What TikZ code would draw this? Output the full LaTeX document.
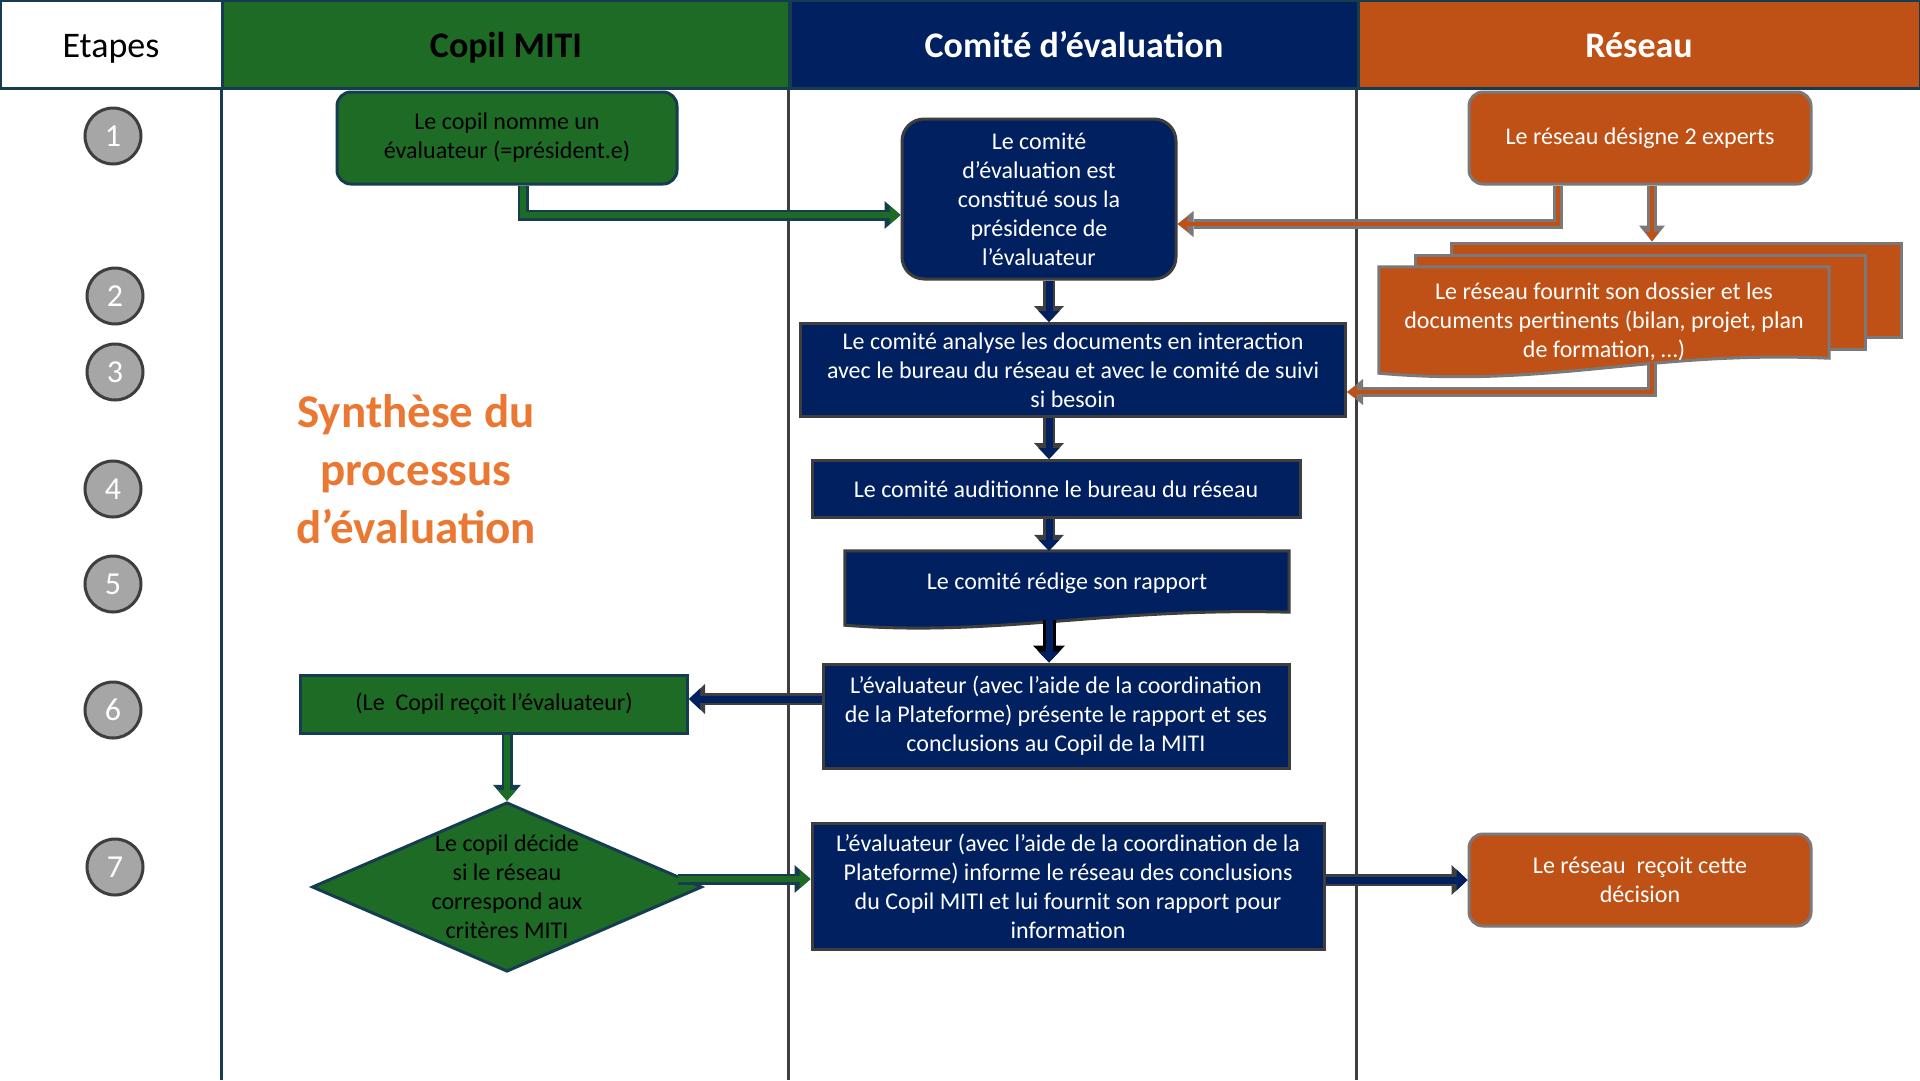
\documentclass[tikz,border=0pt]{standalone}
\usepackage{fontspec}
\setmainfont{Carlito}
\usetikzlibrary{arrows.meta, shapes.geometric, positioning, backgrounds}

\definecolor{copilgreen}{RGB}{29,107,36}
\definecolor{comitenavy}{RGB}{0,32,96}
\definecolor{reseauorange}{RGB}{192,81,22}
\definecolor{titleorange}{RGB}{235,120,50}
\definecolor{laneteal}{RGB}{22,60,80}
\definecolor{edgegrey}{RGB}{62,62,62}
\definecolor{sheetgrey}{RGB}{122,120,120}
\definecolor{dotgrey}{RGB}{166,166,166}

\begin{document}
\begin{tikzpicture}[
    x = 1pt,
    y = -1pt,
    line join = miter,
    ]

    \tikzstyle{every node}=[
    font = \fontsize{24}{29}\selectfont,
    align = center,
    inner sep = 0pt,
    ]
    \tikzstyle{lanehead}=[draw = laneteal, line width = 3pt, minimum height = 88pt,
    text height = 30pt, text depth = 4pt,
    font = \fontsize{36}{40}\selectfont\bfseries]
    \tikzstyle{stepdot}=[circle, fill = dotgrey, draw = edgegrey, line width = 3pt,
    minimum size = 56pt, text = white, font = \fontsize{32}{32}\selectfont]
    \tikzstyle{greenbox}=[fill = copilgreen, draw = laneteal, line width = 3pt, text = black]
    \tikzstyle{navybox}=[fill = comitenavy, draw = edgegrey, line width = 3pt, text = white]
    \tikzstyle{orangebox}=[fill = reseauorange, draw = sheetgrey, line width = 3pt,
    text = white, rounded corners = 14pt]
    \tikzstyle{sheet}=[fill = reseauorange, draw = sheetgrey, line width = 3pt]
    \tikzstyle{greenflow}=[line width = 6pt, draw = copilgreen,
    -{Triangle[length=11pt, width=19pt, line width=0pt]},
    preaction = {draw = laneteal, line width = 11pt,
      -{Triangle[length=16pt, width=28pt, line width=0pt]}}]
    \tikzstyle{navyflow}=[line width = 7pt, draw = comitenavy,
    -{Triangle[length=11pt, width=21pt, line width=0pt]},
    preaction = {draw = edgegrey, line width = 12pt,
      -{Triangle[length=16pt, width=30pt, line width=0pt]}}]
    \tikzstyle{darkflow}=[line width = 7pt, draw = comitenavy,
    -{Triangle[length=11pt, width=21pt, line width=0pt]},
    preaction = {draw = black, line width = 13pt,
      -{Triangle[length=17pt, width=32pt, line width=0pt]}}]
    \tikzstyle{orangeflow}=[line width = 4pt, draw = reseauorange,
    -{Triangle[length=10pt, width=14pt, line width=0pt]},
    preaction = {draw = sheetgrey, line width = 10pt,
      -{Triangle[length=16pt, width=26pt, line width=0pt]}}]

    \useasboundingbox (0,0) rectangle (1920,1080);

    % swimlane headers
    \node[lanehead, fill = white, font = \fontsize{36}{40}\selectfont, minimum width = 222pt] (hEtapes) at (111,44) {Etapes};
    \node[lanehead, fill = copilgreen, text = black, minimum width = 567pt] (hCopil) at (506,44) {Copil MITI};
    \node[lanehead, fill = comitenavy, text = white, minimum width = 568pt] (hComite) at (1074,44) {Comité d’évaluation};
    \node[lanehead, fill = reseauorange, text = white, minimum width = 562pt] (hReseau) at (1639,44) {Réseau};

    \draw[laneteal, line width = 3pt] (hCopil.south west) -- (hCopil.south west |- 0,1080);
    \draw[edgegrey, line width = 3pt] (hComite.south west) -- (hComite.south west |- 0,1080);
    \draw[edgegrey, line width = 3pt] (hReseau.south west) -- (hReseau.south west |- 0,1080);

    % steps
    \foreach \n/\xx/\yy in {1/113/136, 2/115/296, 3/115/372, 4/113/489, 5/113/584, 6/113/710, 7/115/867}
    \node[stepdot] (s\n) at (\xx,\yy) {\n};

    \node[font = \fontsize{47}{58}\selectfont\bfseries, text = titleorange] (title) at (416,469)
    {Synthèse du\\processus\\d’évaluation};

    % Copil MITI
    \node[greenbox, rounded corners = 14pt, minimum width = 340pt, minimum height = 92pt] (copil1) at (507,138)
    {Le copil nomme un\\évaluateur (=président.e)};
    \node[greenbox, minimum width = 387pt, minimum height = 58pt] (recoit) at (494,704)
    {(Le~ Copil reçoit l’évaluateur)};
    \node[greenbox, diamond, aspect = 2.3, minimum width = 390pt, minimum height = 169pt] (decide) at (507,887)
    {Le copil décide\\si le réseau\\correspond aux\\critères MITI};

    % Comite d'evaluation
    \node[navybox, rounded corners = 22pt, minimum width = 274pt, minimum height = 160pt] (comite1) at (1039,199)
    {Le comité\\d’évaluation est\\constitué sous la\\présidence de\\l’évaluateur};
    \node[navybox, minimum width = 545pt, minimum height = 93pt] (analyse) at (1073,370)
    {Le comité analyse les documents en interaction\\avec le bureau du réseau et avec le comité de suivi\\si besoin};
    \node[navybox, minimum width = 488pt, minimum height = 57pt] (audition) at (1056,489)
    {Le comité auditionne le bureau du réseau};
    \node[text = white, minimum width = 444pt, minimum height = 64pt] (redige) at (1067,583)
    {Le comité rédige son rapport};
    \node[navybox, minimum width = 466pt, minimum height = 104pt] (presente) at (1056,716)
    {L’évaluateur (avec l’aide de la coordination\\de la Plateforme) présente le rapport et ses\\conclusions au Copil de la MITI};
    \node[navybox, minimum width = 512pt, minimum height = 126pt] (informe) at (1068,886)
    {L’évaluateur (avec l’aide de la coordination de la\\Plateforme) informe le réseau des conclusions\\du Copil MITI et lui fournit son rapport pour\\information};

    % Reseau
    \node[orangebox, minimum width = 342pt, minimum height = 92pt] (reseau1) at (1640,138)
    {Le réseau désigne 2 experts};
    \node[text = white, minimum width = 450pt, minimum height = 110pt] (docA) at (1604,322)
    {Le réseau fournit son dossier et les\\documents pertinents (bilan, projet, plan\\de formation, …)};
    \node[orangebox, minimum width = 342pt, minimum height = 92pt] (recoit2) at (1640,880)
    {Le réseau~ reçoit cette\\décision};

    \begin{scope}[on background layer]
      \fill[white] (0,0) rectangle (1920,1080);
      \node[sheet, minimum width = 450pt, minimum height = 94pt] (docC) at ([xshift=72pt, yshift=32pt]docA.center) {};
      \node[sheet, minimum width = 450pt, minimum height = 94pt] (docB) at ([xshift=36pt, yshift=20pt]docA.center) {};
      \filldraw[sheet] (docA.north west) -- (docA.north east) -- ([yshift=19pt]docA.south east)
      .. controls +(-180,-8) and +(170,15) .. ([yshift=4pt]docA.south west) -- cycle;
      \filldraw[navybox] (redige.north west) -- (redige.north east) -- ([yshift=3pt]redige.south east)
      .. controls +(-180,-5) and +(150,12) .. ([yshift=-10pt]redige.south west) -- cycle;
    \end{scope}

    % connectors
    \coordinate (spine) at (1049,0);
    \draw[greenflow] ([xshift=16pt]copil1.south) |- (comite1.west |- 0,215);
    \draw[orangeflow] ([xshift=-82pt]reseau1.south) |- (comite1.east |- 0,224);
    \draw[orangeflow] ([xshift=12pt]reseau1.south) -- ([xshift=12pt]reseau1.south |- docC.north);
    \draw[orangeflow] ([xshift=48pt, yshift=14pt]docA.south) |- ([yshift=-22pt]analyse.east);
    \draw[navyflow] (comite1.south -| spine) -- (analyse.north -| spine);
    \draw[navyflow] (analyse.south -| spine) -- (audition.north -| spine);
    \draw[navyflow] (audition.south -| spine) -- (redige.north -| spine);
    \draw[darkflow] ([yshift=-5pt]redige.south -| spine) -- (presente.north -| spine);
    \draw[navyflow] (presente.west |- 0,699) -- (recoit.east |- 0,699);
    \draw[greenflow] (recoit.south -| decide.north) -- (decide.north);
    \draw[greenflow] ([xshift=-26pt, yshift=8pt]decide.east) -- (informe.west |- 0,879);
    \draw[navyflow] (informe.east |- recoit2.west) -- (recoit2.west);
\end{tikzpicture}
\end{document}
